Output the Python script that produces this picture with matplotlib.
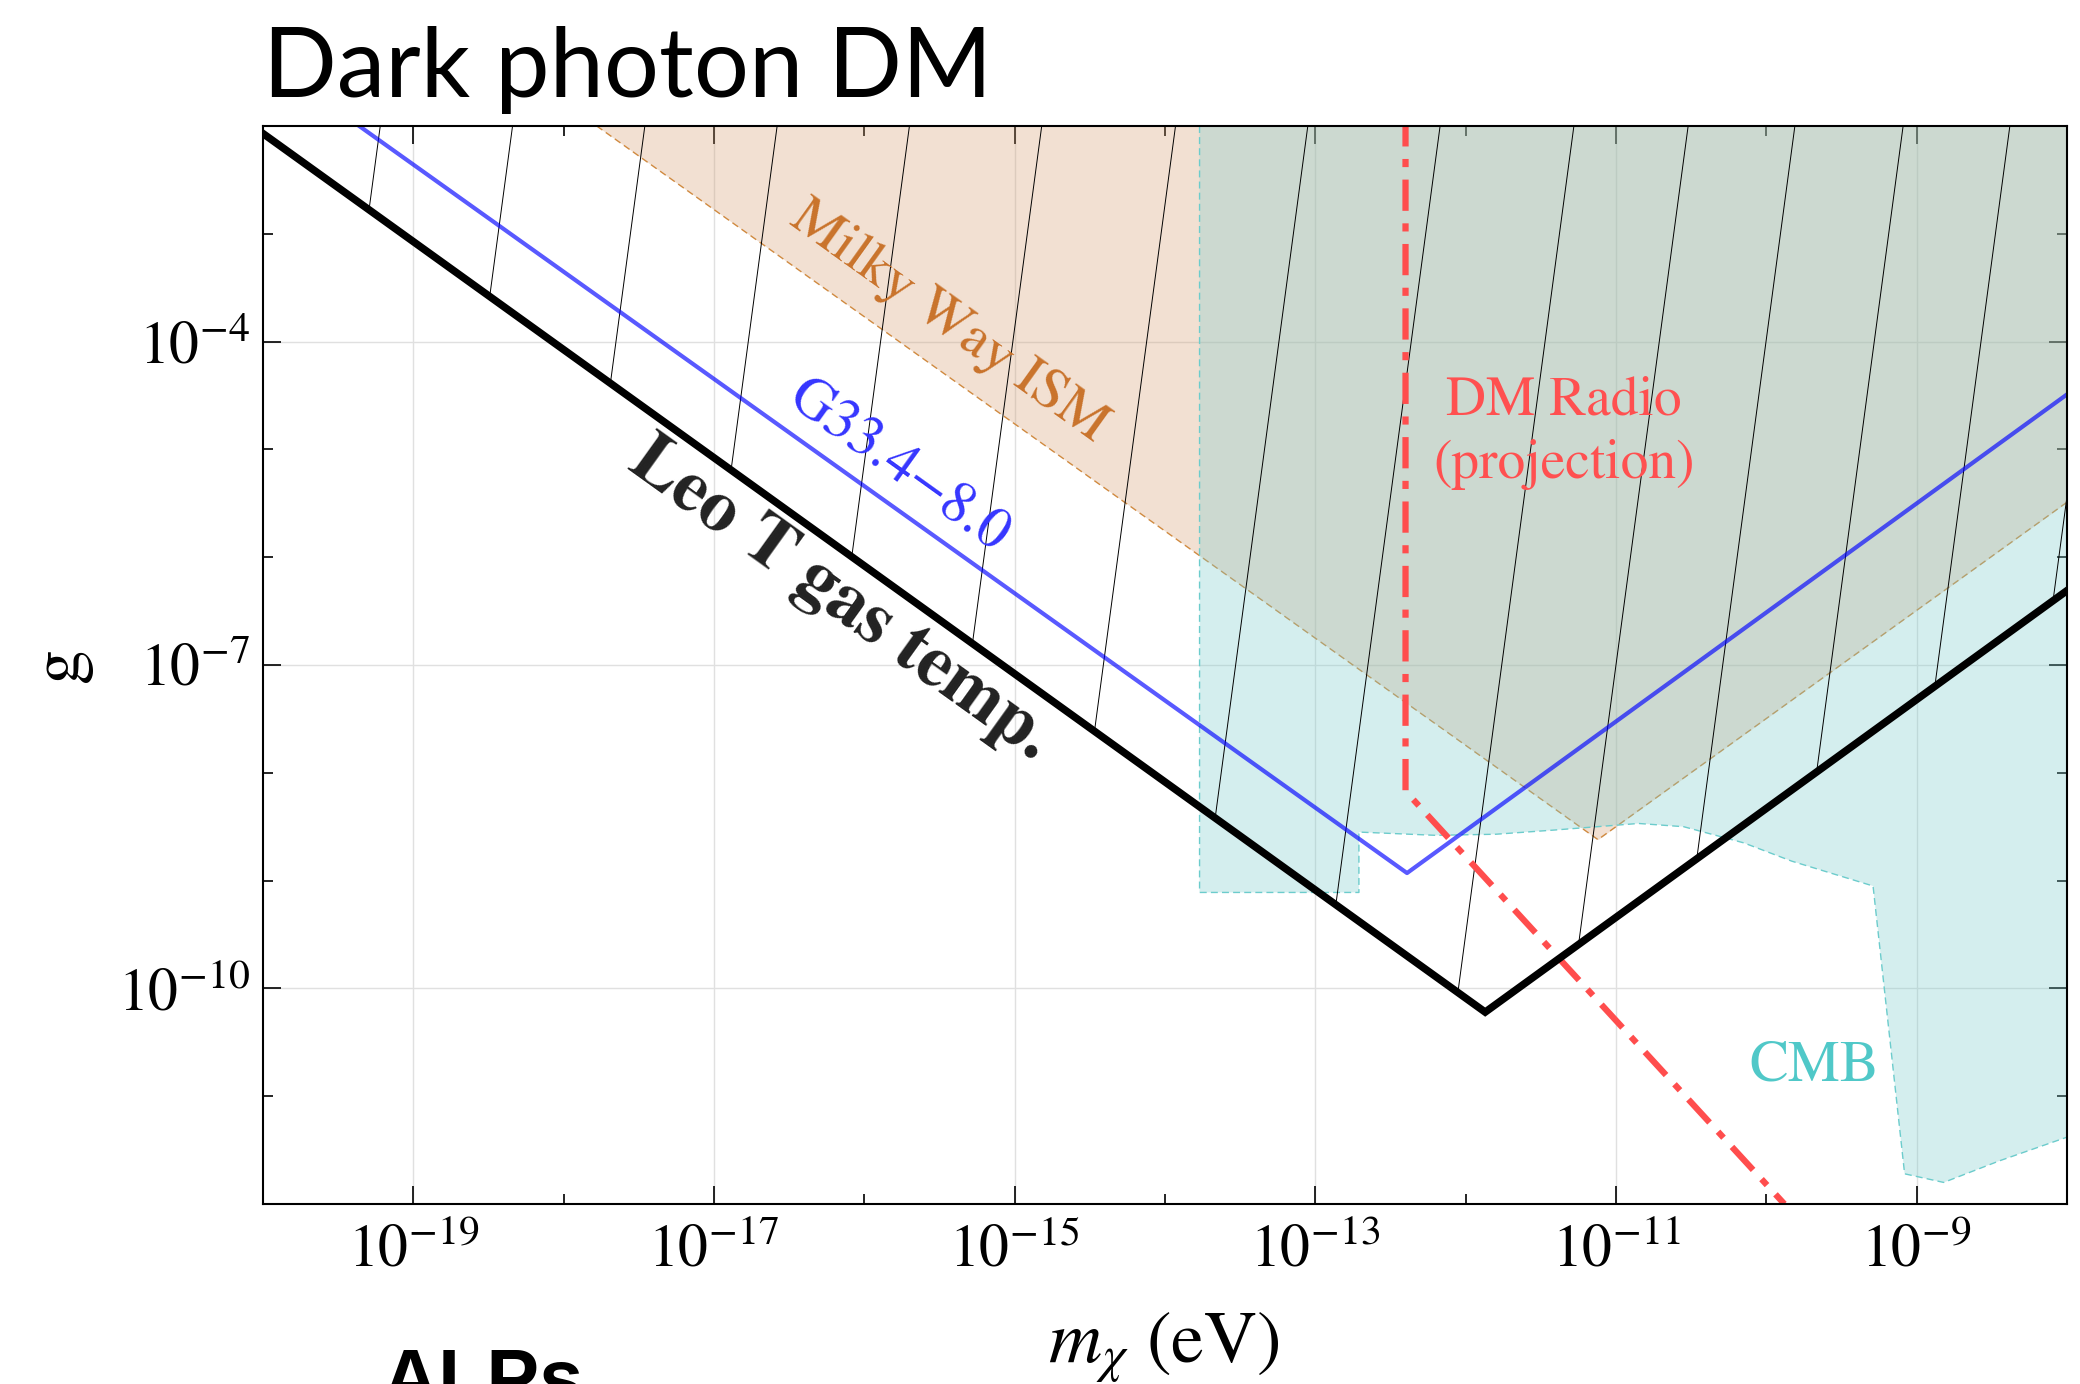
import matplotlib
matplotlib.use("Agg")
import matplotlib.pyplot as plt
import numpy as np
from matplotlib.patches import Polygon
from matplotlib.ticker import FixedLocator, FixedFormatter, NullFormatter

plt.rcParams['mathtext.fontset'] = 'stix'
plt.rcParams['font.family'] = 'STIXGeneral'

# DANE (wszystko jako log10)
# Leo T gas temp. - granica (kształt V)
leo_m = [-20.0, -11.87, -8.0]
leo_g = [-2.07, -10.22, -6.31]

# G33.4-8.0
g33_m = [-19.36, -12.39, -8.0]
g33_g = [-2.0, -8.93, -4.49]

# Milky Way ISM (obszar powyżej linii)
mw_m = [-17.78, -11.12, -8.0]
mw_g = [-2.0, -8.62, -5.49]

# CMB (wielokąt)
cmb_m = [-13.77, -13.77, -12.71, -12.71, -12.2, -11.8, -11.4, -10.85, -10.55,
         -10.15, -9.83, -9.29, -9.08, -8.82, -8.45, -8.0, -8.0]
cmb_g = [-2.0, -9.11, -9.11, -8.55, -8.58, -8.57, -8.53, -8.47, -8.50,
         -8.65, -8.82, -9.05, -11.72, -11.80, -11.60, -11.38, -2.0]

# DM Radio (projekcja)
dmr_m = [-12.40, -12.40, -9.88]
dmr_g = [-1.9, -8.17, -12.0]

# linie kreskowania - położenia przy górnej krawędzi (g = 1e-2)
hatch_top = [-19.22, -18.34, -17.46, -16.58, -15.70, -14.82, -13.93, -13.05,
             -12.17, -11.28, -10.52, -9.81, -9.09, -8.38, -7.67]
hatch_tilt = 0.096  # dekady m na dekadę g

xmaj = [-19, -17, -15, -13, -11, -9]
xmin = [-20, -18, -16, -14, -12, -10, -8]
ymaj = [-4, -7, -10]
ymin = [-12, -11, -9, -8, -6, -5, -3, -2]


def p(a):
    return 10.0 ** np.array(a)


fig = plt.figure(figsize=(20.8, 13.84), dpi=100)
ax = fig.add_axes([0.12644, 0.13006, 0.8673, 0.7789])
ax.set_xscale('log')
ax.set_yscale('log')
ax.set_xlim(1e-20, 1e-8)
ax.set_ylim(1e-12, 1e-2)

# siatka
ax.grid(True, which='major', color='#e0e0e0', lw=1.0, zorder=0)
ax.set_axisbelow(True)

# Milky Way ISM
ax.fill_between(p(mw_m), p(mw_g), 1e-2, color='#d49b6c', alpha=0.30, lw=0, zorder=1)
ax.plot(p(mw_m), p(mw_g), color='#d08a40', lw=1.0, ls=(0, (5, 3)), zorder=1.1)

# CMB
ax.fill(p(cmb_m), p(cmb_g), color='#7ccdcd', alpha=0.32, lw=0, zorder=2)
ax.plot(p(cmb_m[:-1]), p(cmb_g[:-1]), color='#6ccccc', lw=1.0, ls=(0, (5, 3)), zorder=2.1)

# kreskowanie obszaru nad Leo T
clip = Polygon(np.column_stack([p(leo_m + [-8.0, -20.0]), p(leo_g + [-2.0, -2.0])]),
               closed=True, transform=ax.transData, facecolor='none', edgecolor='none')
ax.add_patch(clip)
for x0 in hatch_top:
    xs = [x0, x0 - hatch_tilt * 10]
    ln, = ax.plot(p(xs), p([-2.0, -12.0]), color='black', lw=0.7, zorder=3)
    ln.set_clip_path(clip)

# linie
ax.plot(p(g33_m), p(g33_g), color='blue', alpha=0.65, lw=3.0, zorder=4)
ax.plot(p(dmr_m), p(dmr_g), color='#ff4d4d', lw=4.5, ls=(0, (5, 2.0, 1.3, 2.0)),
        zorder=5)
ax.plot(p(leo_m), p(leo_g), color='black', lw=5.4, zorder=6, solid_joinstyle='miter')

# kąt nachylenia linii o nachyleniu 1 dekada/dekadę
a = ax.transData.transform([(1e-16, 1e-4), (1e-15, 1e-5)])
ang = np.degrees(np.arctan2(a[1, 1] - a[0, 1], a[1, 0] - a[0, 0]))

ax.text(0.380, 0.818, 'Milky Way ISM', transform=ax.transAxes, rotation=ang,
        rotation_mode='anchor', ha='center', va='center', fontsize=41,
        color='#c9732b', zorder=7)
ax.text(0.352, 0.684, 'G33.4\u22128.0', transform=ax.transAxes, rotation=ang,
        rotation_mode='anchor', ha='center', va='center', fontsize=42,
        color='#3535ff', zorder=7)
ax.text(0.320, 0.560, 'Leo T gas temp.', transform=ax.transAxes, rotation=ang,
        rotation_mode='anchor', ha='center', va='center', fontsize=53,
        fontweight='bold', color='#222222', zorder=7)
ax.text(0.721, 0.715, 'DM Radio\n(projection)', transform=ax.transAxes,
        ha='center', va='center', fontsize=40, color='#ff5050',
        linespacing=1.32, zorder=7)
ax.text(0.860, 0.127, 'CMB', transform=ax.transAxes, ha='center', va='center',
        fontsize=42, color='#50c8c8', zorder=7)

# osie
ax.xaxis.set_major_locator(FixedLocator(p(xmaj)))
ax.xaxis.set_minor_locator(FixedLocator(p(xmin)))
ax.xaxis.set_major_formatter(FixedFormatter([r'$10^{%d}$' % e for e in xmaj]))
ax.xaxis.set_minor_formatter(NullFormatter())
ax.yaxis.set_major_locator(FixedLocator(p(ymaj)))
ax.yaxis.set_minor_locator(FixedLocator(p(ymin)))
ax.yaxis.set_major_formatter(FixedFormatter([r'$10^{%d}$' % e for e in ymaj]))
ax.yaxis.set_minor_formatter(NullFormatter())

ax.tick_params(which='both', direction='in', top=True, right=True, width=1.2,
               colors='black')
ax.tick_params(which='major', length=13, labelsize=43)
ax.tick_params(axis='x', which='major', pad=14)
ax.tick_params(axis='y', which='major', pad=9)
ax.tick_params(which='minor', length=7)
for s in ax.spines.values():
    s.set_linewidth(1.5)
    s.set_zorder(8)

fig.text(0.5596, 0.0152, r'$m_{\chi}$ (eV)', ha='center', va='baseline', fontsize=53)
fig.text(0.0293, 0.5195, 'g', rotation=90, ha='center', va='center', fontsize=50)

fig.text(0.12644, 0.930, 'Dark photon DM', family='Lato', fontsize=70,
         ha='left', va='baseline')
fig.text(0.1830, -0.0150, 'ALPs', family='Liberation Sans', fontweight='bold',
         fontsize=57, ha='left', va='baseline')

fig.savefig('out.png', dpi=100)
